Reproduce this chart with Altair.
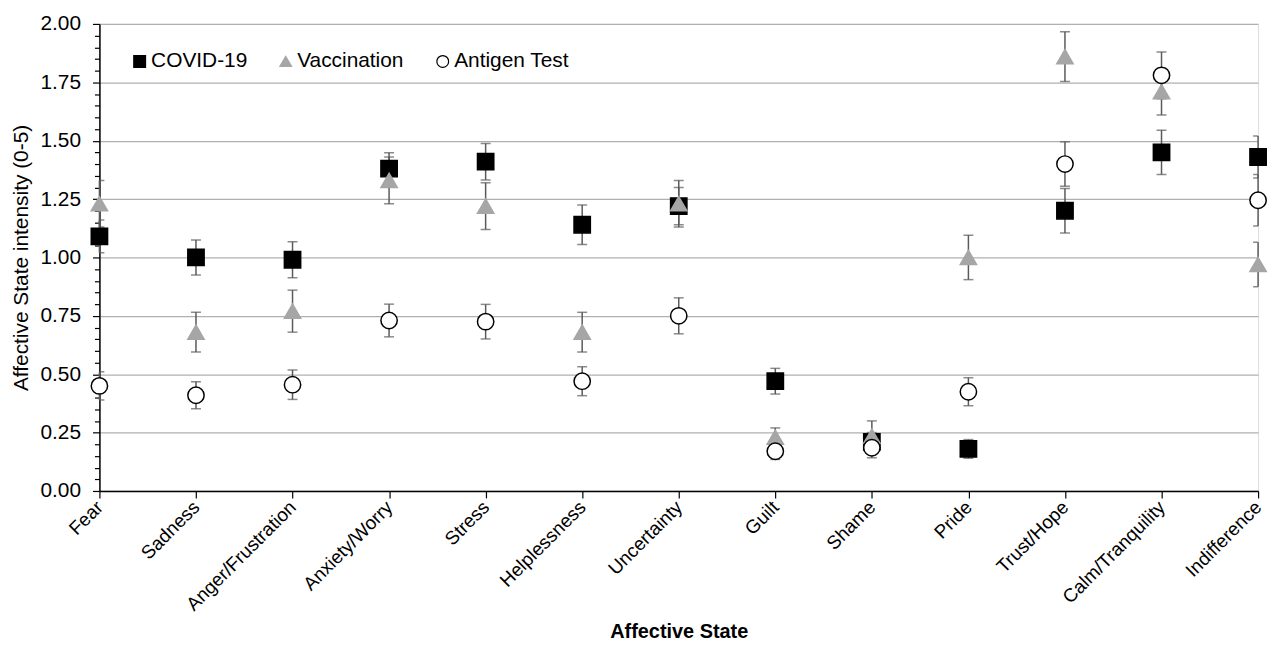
import altair as alt
import pandas as pd

categories = ["Fear", "Sadness", "Anger/Frustration", "Anxiety/Worry", "Stress",
              "Helplessness", "Uncertainty", "Guilt", "Shame", "Pride",
              "Trust/Hope", "Calm/Tranquility", "Indifference"]

series_names = ["COVID-19", "Vaccination", "Antigen Test"]

covid = [1.09, 1.00, 0.99, 1.38, 1.41, 1.14, 1.22, 0.47, 0.21, 0.18, 1.20, 1.45, 1.43]
covid_err = [0.07, 0.075, 0.077, 0.068, 0.078, 0.085, 0.08, 0.055, 0.04, 0.04, 0.095, 0.095, 0.09]

vaccination = [1.23, 0.68, 0.77, 1.33, 1.22, 0.68, 1.23, 0.23, 0.235, 1.00, 1.86, 1.71, 0.97]
vaccination_err = [0.10, 0.085, 0.09, 0.10, 0.10, 0.085, 0.10, 0.04, 0.065, 0.095, 0.107, 0.10, 0.095]

antigen = [0.45, 0.41, 0.455, 0.73, 0.725, 0.47, 0.75, 0.17, 0.185, 0.425, 1.40, 1.78, 1.245]
antigen_err = [0.06, 0.058, 0.063, 0.07, 0.074, 0.062, 0.077, 0.035, 0.043, 0.06, 0.095, 0.10, 0.11]

rows = []
for name, vals, errs in [("COVID-19", covid, covid_err),
                         ("Vaccination", vaccination, vaccination_err),
                         ("Antigen Test", antigen, antigen_err)]:
    for c, v, e in zip(categories, vals, errs):
        rows.append({"cat": c, "series": name, "value": v, "lo": v - e, "hi": v + e})
df = pd.DataFrame(rows)

FONT = "Liberation Sans"

y_values = [round(i * 0.05, 2) for i in range(41)]
major = "round(datum.value*20) % 5 == 0"

x_enc = alt.X("cat:N", sort=categories,
              scale=alt.Scale(type="point", padding=0),
              axis=alt.Axis(title="Affective  State", labelAngle=-45, labelFontSize=19,
                            labelBaseline="middle",
                            labelFont=FONT, labelColor="black", titleFont=FONT,
                            titleFontSize=20, titleFontWeight="bold", titleColor="black",
                            tickSize=7, tickColor="black", domainColor="black",
                            domainWidth=1.5, tickWidth=1.2, labelPadding=6,
                            titlePadding=8, grid=False, labelOverlap=False))

y_scale = alt.Scale(domain=[0, 2], nice=False, zero=True)
y_axis = alt.Axis(title="Affective State intensity (0-5)", values=y_values,
                  labelExpr=f"{major} ? format(datum.value, '.2f') : ''",
                  labelOverlap=False,
                  labelFontSize=21, labelFont=FONT, labelColor="black",
                  titleFont=FONT, titleFontSize=21, titleFontWeight="normal",
                  titleColor="black", titlePadding=8,
                  tickSize={"condition": {"test": major, "value": 7}, "value": 5},
                  tickColor="black", tickWidth=1.2, domainColor="black", domainWidth=1.5,
                  grid=True, gridColor="#b0b0b0", gridWidth=1.3,
                  gridOpacity={"condition": {"test": major, "value": 1}, "value": 0},
                  labelPadding=12)

base = alt.Chart(df)

rules = base.mark_rule(color="#5a5a5a", strokeWidth=1.5).encode(
    x=x_enc,
    y=alt.Y("lo:Q", scale=y_scale, axis=y_axis),
    y2="hi:Q")

cap_lo = base.mark_tick(color="#5a5a5a", thickness=1.5, size=10, clip=True).encode(
    x=x_enc, y=alt.Y("lo:Q", scale=y_scale, axis=y_axis))
cap_hi = base.mark_tick(color="#5a5a5a", thickness=1.5, size=10, clip=True).encode(
    x=x_enc, y=alt.Y("hi:Q", scale=y_scale, axis=y_axis))

legend = alt.Legend(title=None, orient="none", legendX=30, legendY=27,
                    direction="horizontal", labelFont=FONT, labelFontSize=21,
                    labelColor="black", symbolSize=140, columnPadding=28,
                    labelOffset=1, symbolStrokeWidth=1.2)

points = base.mark_point(opacity=1, strokeWidth=1.5, size=270).encode(
    x=x_enc,
    y=alt.Y("value:Q", scale=y_scale, axis=y_axis),
    shape=alt.Shape("series:N", sort=series_names,
                    scale=alt.Scale(domain=series_names,
                                    range=["square", "triangle-up", "circle"]),
                    legend=legend),
    fill=alt.Fill("series:N", sort=series_names,
                  scale=alt.Scale(domain=series_names,
                                  range=["#000000", "#a6a6a6", "#ffffff"]),
                  legend=legend),
    stroke=alt.Stroke("series:N", sort=series_names,
                      scale=alt.Scale(domain=series_names,
                                      range=["#000000", "#a6a6a6", "#000000"]),
                      legend=legend),
)

chart = alt.layer(rules, cap_lo, cap_hi, points).properties(
    width=1166, height=470,
    autosize=alt.AutoSizeParams(type="none"),
    padding={"left": 92, "top": 14, "right": 11, "bottom": 155},
).configure_view(stroke=None).configure(background="white")

chart.save("out.html", embed_options={"renderer": "svg", "actions": False})
